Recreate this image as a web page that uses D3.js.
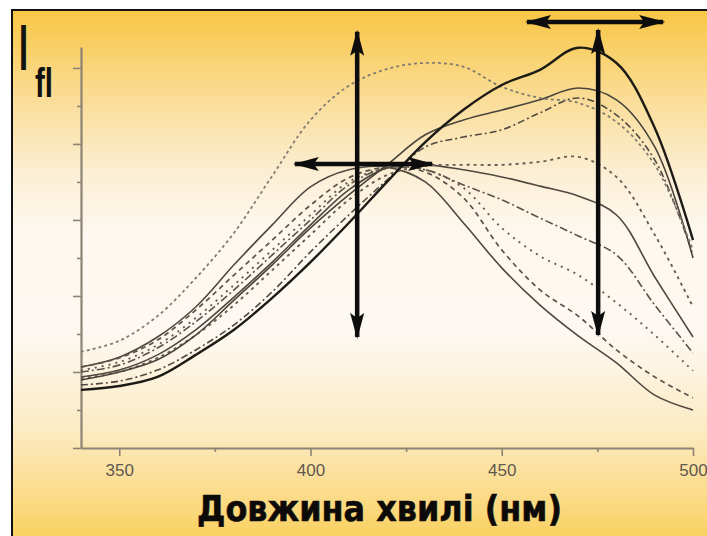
<!DOCTYPE html>
<html>
<head>
<meta charset="utf-8">
<script src="https://cdn.jsdelivr.net/npm/d3@7"></script>
<style>
  html, body { margin: 0; padding: 0; background: #fff; }
  svg { display: block; }
</style>
</head>
<body>
<div id="chart"></div>
<script>
// Fluorescence spectra family, intensity in arbitrary units

const wavelengths = [340, 350, 360, 370, 380, 390, 400, 410, 420, 430, 440, 450, 460, 470, 480, 490, 500];

// curves peaking near 470 nm
const thickSolid = [1.53, 1.63, 1.87, 2.45, 3.11, 3.95, 4.89, 5.92, 7.00, 8.05, 8.90, 9.55, 9.95, 10.53, 10.13, 8.42, 5.47];
const wideDotted = [2.53, 2.82, 3.47, 4.47, 5.66, 7.16, 8.63, 9.53, 9.97, 10.13, 10.03, 9.50, 9.21, 9.08, 8.58, 7.45, 5.21];
const solidHigh = [1.79, 2.00, 2.32, 2.97, 3.89, 4.82, 5.79, 6.66, 7.45, 8.24, 8.63, 8.89, 9.16, 9.47, 9.16, 7.92, 5.00];
const dashDotHigh = [1.66, 1.76, 2.05, 2.58, 3.24, 4.11, 5.16, 6.13, 7.05, 7.92, 8.18, 8.37, 8.82, 9.21, 8.76, 7.58, 5.08];
const dottedFlat = [1.84, 2.00, 2.37, 2.97, 3.76, 4.68, 5.61, 6.53, 7.18, 7.42, 7.45, 7.45, 7.53, 7.66, 7.13, 5.61, 3.71];

// curves peaking near 420 nm
const solidMid = [1.87, 2.05, 2.45, 3.11, 3.97, 4.89, 5.87, 6.79, 7.37, 7.45, 7.32, 7.13, 6.89, 6.63, 6.13, 4.50, 2.92];
const dashDotLow = [2.00, 2.18, 2.63, 3.32, 4.16, 5.08, 6.00, 6.92, 7.37, 7.32, 6.92, 6.53, 6.05, 5.58, 5.08, 3.76, 2.50];
const dottedLow = [2.05, 2.26, 2.71, 3.42, 4.29, 5.21, 6.13, 7.00, 7.37, 7.32, 6.84, 5.79, 5.05, 4.55, 3.82, 2.97, 2.03];
const dashedLow = [2.13, 2.37, 2.84, 3.63, 4.55, 5.47, 6.39, 7.11, 7.39, 7.26, 6.58, 5.21, 4.16, 3.47, 2.58, 1.87, 1.32];
const solidLow = [2.13, 2.39, 2.92, 3.71, 4.82, 5.87, 6.87, 7.32, 7.39, 7.00, 5.92, 4.74, 3.76, 2.95, 2.24, 1.39, 1.00];

const xTickLabels = [350, 400, 450, 500];
const xMinorTicks = [375, 425, 475];
const yMajorTicks = [0, 2, 4, 6, 8, 10];
const yMinorTicks = [1, 3, 5, 7, 9];

// arrows: [x1, y1, x2, y2] in data units (nm, intensity)
const arrows = [
  [412.2, 10.95, 412.2, 2.92],
  [395.9, 7.47, 431.8, 7.47],
  [456.6, 11.21, 492.2, 11.21],
  [475.2, 11.0, 475.2, 2.97]
];

const axisTitle = 'Довжина хвилі (нм)';

// line styles
const styles = [
  { data: solidLow,    color: '#4f4840', width: 1.6, dash: null },
  { data: dashedLow,   color: '#5a534a', width: 1.7, dash: '5,4' },
  { data: dottedLow,   color: '#655e53', width: 1.9, dash: '2,5' },
  { data: dashDotLow,  color: '#5a534a', width: 1.6, dash: '8,3,2,3' },
  { data: solidMid,    color: '#4f4840', width: 1.6, dash: null },
  { data: dottedFlat,  color: '#655e53', width: 1.9, dash: '3,4' },
  { data: dashDotHigh, color: '#4f4840', width: 1.6, dash: '7,3,2,3' },
  { data: solidHigh,   color: '#4a443c', width: 1.6, dash: null },
  { data: wideDotted,  color: '#837c71', width: 1.8, dash: '3,3' },
  { data: thickSolid,  color: '#1e1a16', width: 2.4, dash: null }
];

const W = 707, H = 536;

const svg = d3.select('#chart').append('svg')
  .attr('width', W)
  .attr('height', H);

const defs = svg.append('defs');

// background gradient
const grad = defs.append('linearGradient')
  .attr('id', 'bg')
  .attr('x1', 0).attr('y1', 0).attr('x2', 0).attr('y2', 1);
[
  [0, '#f8c644'], [0.17, '#fadd99'], [0.31, '#fcefd6'], [0.42, '#fdf9f0'],
  [0.6, '#fdf9f2'], [0.78, '#fcebc4'], [0.9, '#fbdc8c'], [1, '#f9cf58']
].forEach(s => grad.append('stop').attr('offset', s[0]).attr('stop-color', s[1]));

defs.append('filter').attr('id', 'soft')
  .append('feGaussianBlur').attr('stdDeviation', 0.5);

svg.append('rect')
  .attr('x', 12).attr('y', 10)
  .attr('width', W).attr('height', H)
  .attr('fill', 'url(#bg)')
  .attr('stroke', '#111')
  .attr('stroke-width', 2);

// scales
const x = d3.scaleLinear().domain([340, 500]).range([81, 693]);
const y = d3.scaleLinear().domain([0, 10.55]).range([448, 47]);

// axes
const axisColor = '#8c8375';

const gy = svg.append('g').attr('transform', 'translate(81,0)');
gy.call(d3.axisLeft(y).tickValues(yMajorTicks).tickSize(8).tickSizeOuter(0).tickFormat(''));
svg.append('g').attr('transform', 'translate(81,0)')
  .call(d3.axisLeft(y).tickValues(yMinorTicks).tickSize(4).tickSizeOuter(0).tickFormat(''))
  .select('.domain').remove();

const gx = svg.append('g').attr('transform', 'translate(0,448)');
gx.call(d3.axisBottom(x).tickValues(xTickLabels).tickSize(8).tickSizeOuter(0).tickPadding(8));
svg.append('g').attr('transform', 'translate(0,448)')
  .call(d3.axisBottom(x).tickValues(xMinorTicks).tickSize(4).tickSizeOuter(0).tickFormat(''))
  .select('.domain').remove();

svg.selectAll('.domain').attr('stroke', axisColor).attr('stroke-width', 2.2);
svg.selectAll('.tick line').attr('stroke', axisColor).attr('stroke-width', 1.6);
gx.selectAll('.tick text')
  .attr('fill', '#5f584f')
  .style('font-family', '"Liberation Sans", Arial, sans-serif')
  .style('font-size', '17px');

// curves
const line = d3.line()
  .x((d, i) => x(wavelengths[i]))
  .y(d => y(d))
  .curve(d3.curveCatmullRom.alpha(0.5));

svg.append('g')
  .attr('filter', 'url(#soft)')
  .selectAll('path')
  .data(styles)
  .enter()
  .append('path')
  .attr('d', d => line(d.data))
  .attr('fill', 'none')
  .attr('stroke', d => d.color)
  .attr('stroke-width', d => d.width)
  .attr('stroke-dasharray', d => d.dash)
  .attr('stroke-linejoin', 'round');

// double-headed arrows
defs.append('marker')
  .attr('id', 'head')
  .attr('viewBox', '0 -8 26 16')
  .attr('refX', 24).attr('refY', 0)
  .attr('markerWidth', 26).attr('markerHeight', 16)
  .attr('markerUnits', 'userSpaceOnUse')
  .attr('orient', 'auto-start-reverse')
  .append('path')
  .attr('d', 'M0,-7 L26,0 L0,7 L5,0 Z')
  .attr('fill', '#0d0b09');

svg.append('g')
  .attr('filter', 'url(#soft)')
  .selectAll('line')
  .data(arrows)
  .enter()
  .append('line')
  .attr('x1', d => x(d[0])).attr('y1', d => y(d[1]))
  .attr('x2', d => x(d[2])).attr('y2', d => y(d[3]))
  .attr('stroke', '#0d0b09')
  .attr('stroke-width', 4.5)
  .attr('marker-start', 'url(#head)')
  .attr('marker-end', 'url(#head)');

// y label I_fl
svg.append('text')
  .attr('x', 19).attr('y', 70)
  .attr('textLength', 9)
  .attr('lengthAdjust', 'spacingAndGlyphs')
  .style('font-family', '"Liberation Sans", Arial, sans-serif')
  .style('font-weight', 'bold')
  .style('font-size', '65px')
  .attr('fill', '#111')
  .text('I');

svg.append('text')
  .attr('x', 35).attr('y', 97)
  .attr('textLength', 18)
  .attr('lengthAdjust', 'spacingAndGlyphs')
  .style('font-family', '"Liberation Sans", Arial, sans-serif')
  .style('font-weight', 'bold')
  .style('font-size', '40px')
  .attr('fill', '#111')
  .text('fl');

// x axis title
svg.append('text')
  .attr('x', 197).attr('y', 521)
  .attr('textLength', 365)
  .attr('lengthAdjust', 'spacingAndGlyphs')
  .style('font-family', '"DejaVu Sans", Verdana, sans-serif')
  .style('font-weight', 'bold')
  .style('font-size', '36px')
  .attr('fill', '#0d0b09')
  .attr('stroke', '#0d0b09')
  .attr('stroke-width', 0.6)
  .text(axisTitle);
</script>
</body>
</html>
